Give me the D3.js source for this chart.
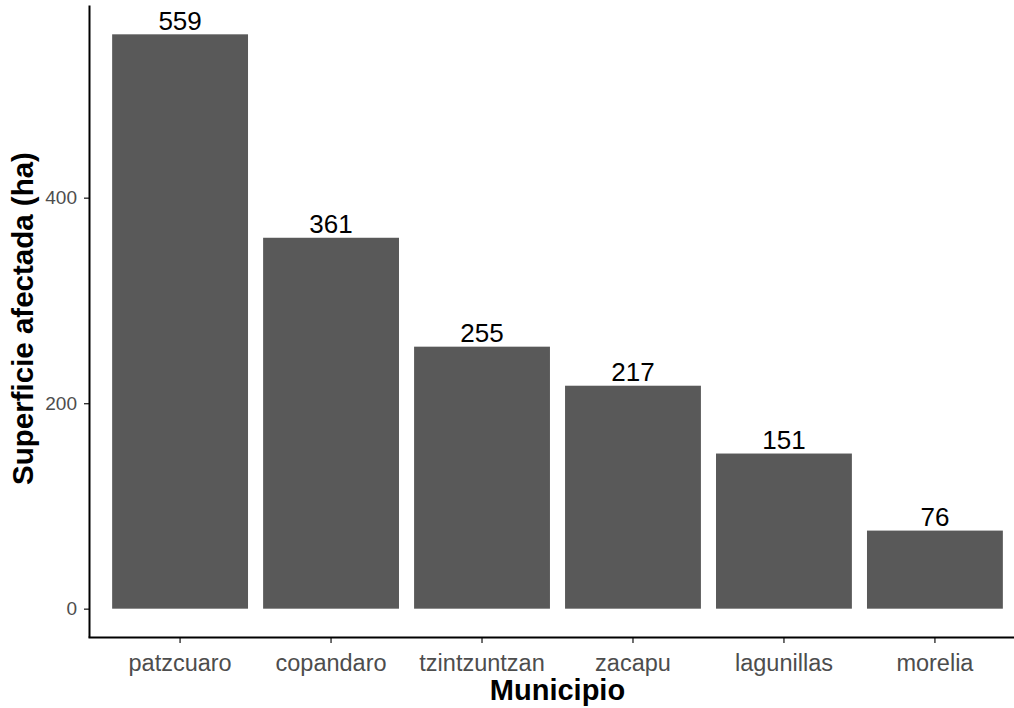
<!DOCTYPE html>
<html>
<head>
<meta charset="utf-8">
<script src="https://cdn.jsdelivr.net/npm/d3@7"></script>
<style>
  html, body { margin: 0; padding: 0; background: #fff; overflow: hidden; }
  svg { display: block; }
  text { font-family: "Liberation Sans", Arial, sans-serif; }
</style>
</head>
<body>
<svg id="chart" width="1014" height="708"></svg>
<script>
const municipios = ["patzcuaro", "copandaro", "tzintzuntzan", "zacapu", "lagunillas", "morelia"];
const superficie = [559, 361, 255, 217, 151, 76];
const yTicks = [0, 200, 400];
const xTitle = "Municipio";
const yTitle = "Superficie afectada (ha)";

const panel = { left: 89.5, right: 1025.5, top: 5.6, bottom: 637.4 };
const svg = d3.select("#chart");

const data = municipios.map((m, i) => ({ m, v: superficie[i] }));
const vmax = d3.max(superficie);

const x = d3.scaleBand()
  .domain(municipios)
  .range([panel.left, panel.right])
  .paddingInner(0.1)
  .paddingOuter(0.15);

const y = d3.scaleLinear()
  .domain([-0.05 * vmax, 1.05 * vmax])
  .range([panel.bottom, panel.top]);

// bars
svg.append("g").selectAll("rect").data(data).join("rect")
  .attr("x", d => x(d.m))
  .attr("width", x.bandwidth())
  .attr("y", d => y(d.v))
  .attr("height", d => y(0) - y(d.v))
  .attr("fill", "#595959");

// value labels
svg.append("g").selectAll("text").data(data).join("text")
  .attr("x", d => x(d.m) + x.bandwidth() / 2)
  .attr("y", d => y(d.v) - 4.5)
  .attr("text-anchor", "middle")
  .attr("font-size", 26)
  .attr("fill", "#000")
  .text(d => d.v);

// y axis
const yAxis = d3.axisLeft(y).tickValues(yTicks).tickSize(5.5).tickPadding(7);
const gy = svg.append("g").attr("transform", `translate(${panel.left},0)`).call(yAxis);
gy.select(".domain").remove();
gy.selectAll(".tick line").attr("stroke", "#333").attr("stroke-width", 1.4);
gy.selectAll(".tick text").attr("font-size", 19).attr("fill", "#4D4D4D")
  .attr("font-family", "Liberation Sans, Arial, sans-serif");

// x axis
const xAxis = d3.axisBottom(x).tickSize(5.5).tickPadding(0);
const gx = svg.append("g").attr("transform", `translate(0,${panel.bottom})`).call(xAxis);
gx.select(".domain").remove();
gx.selectAll(".tick line").attr("stroke", "#333").attr("stroke-width", 1.4);
gx.selectAll(".tick text").attr("font-size", 23.5).attr("fill", "#4D4D4D")
  .attr("font-family", "Liberation Sans, Arial, sans-serif")
  .attr("dy", null).attr("y", 671.5 - panel.bottom);

// axis lines
svg.append("line")
  .attr("x1", panel.left).attr("x2", panel.left)
  .attr("y1", panel.top).attr("y2", panel.bottom)
  .attr("stroke", "#000").attr("stroke-width", 2);
svg.append("line")
  .attr("x1", panel.left - 1).attr("x2", panel.right)
  .attr("y1", panel.bottom).attr("y2", panel.bottom)
  .attr("stroke", "#000").attr("stroke-width", 2);

// titles
svg.append("text")
  .attr("x", (x(municipios[0]) + x(municipios[5]) + x.bandwidth()) / 2)
  .attr("y", 700)
  .attr("text-anchor", "middle")
  .attr("font-size", 29)
  .attr("font-weight", "bold")
  .text(xTitle);

svg.append("text")
  .attr("transform", `translate(33,${(panel.top + panel.bottom) / 2 - 3}) rotate(-90)`)
  .attr("text-anchor", "middle")
  .attr("font-size", 29.5)
  .attr("font-weight", "bold")
  .text(yTitle);
</script>
</body>
</html>
